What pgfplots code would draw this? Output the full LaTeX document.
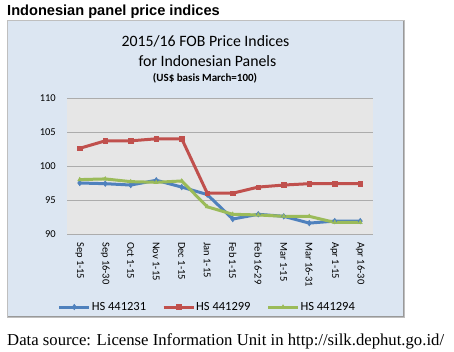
\documentclass[border=0pt]{standalone}
\usepackage{pgfplots}
\pgfplotsset{compat=1.18}
\usepackage{fontspec}
\setmainfont{Carlito}
\newfontfamily\arialf{Liberation Sans}
\newfontfamily\timesf{Liberation Serif}
\definecolor{boxfill}{HTML}{DCE6F2}
\definecolor{plotfill}{HTML}{E6E6E6}
\definecolor{sblue}{HTML}{4F81BD}
\definecolor{sred}{HTML}{C0504D}
\definecolor{sgreen}{HTML}{9BBB59}
\begin{document}
\begin{tikzpicture}
\path[use as bounding box, fill=white] (0pt,0pt) rectangle (454pt,351pt);
\fill[boxfill] (7.5pt,34pt) rectangle (404pt,330.5pt);
\draw[gray!80, line width=1.5pt] (404pt,34pt) -- (404pt,330.5pt);
\draw[gray!80, line width=1.5pt] (7.5pt,34pt) -- (404pt,34pt);
\draw[gray!50, line width=0.6pt] (7.5pt,34pt) rectangle (404pt,330.5pt);
\node[anchor=base west, inner sep=0, font=\arialf\bfseries\fontsize{14.6}{16}\selectfont] at (7pt,335.5pt) {Indonesian panel price indices};
\node[anchor=base, inner sep=0, font=\fontsize{15.8}{18}\selectfont] at (205.5pt,304.5pt) {2015/16 FOB Price Indices};
\node[anchor=base, inner sep=0, font=\fontsize{15.8}{18}\selectfont] at (207.5pt,284pt) {for Indonesian Panels};
\node[anchor=base, inner sep=0, font=\bfseries\fontsize{11}{12}\selectfont] at (205pt,269pt) {(US\$ basis March=100)};
\node[anchor=base west, inner sep=0, font=\timesf\fontsize{16.7}{18}\selectfont] at (7pt,6pt) {Data source: License Information Unit in http://silk.dephut.go.id/};
\begin{axis}[
  at={(67pt,117pt)}, anchor=south west,
  scale only axis, width=306pt, height=136pt,
  xmin=-0.5, xmax=11.5, ymin=90, ymax=110,
  ytick={90,95,100,105,110},
  xtick={0,...,11},
  xticklabels={Sep 1-15,Sep 16-30,Oct 1-15,Nov 1-15,Dec 1-15,Jan 1-15,Feb 1-15,Feb 16-29,Mar 1-15,Mar 16-31,Apr 1-15,Apr 16-30},
  x tick label style={rotate=-90, anchor=west, font=\fontsize{10.5}{12}\selectfont, inner sep=0pt},
  xticklabel shift=8pt,
  y tick label style={font=\fontsize{10.5}{12}\selectfont, inner sep=0pt},
  yticklabel shift=11pt,
  yticklabel style={/pgf/number format/assume math mode=true},
  major tick length=0pt,
  axis background/.style={fill=plotfill},
  axis line style={draw=none},
  ymajorgrids, major grid style={gray!65, line width=0.8pt},
  legend style={at={(0.457,-0.537)}, anchor=center, draw=none, fill=none, font=\fontsize{12.5}{14}\selectfont, legend columns=3,
    /tikz/every odd column/.append style={column sep=0pt},
    /tikz/every even column/.append style={column sep=15pt},
    nodes={inner sep=1pt}},
  legend image code/.code={\draw[#1, mark repeat=2, mark phase=2] plot coordinates {(0pt,0pt) (15pt,0pt) (30pt,0pt)};},
]
\addplot[sblue, line width=3pt, mark=diamond*, mark size=2.8pt, mark options={line width=0.5pt}] coordinates {
(0,97.5) (1,97.4) (2,97.2) (3,97.9) (4,96.9) (5,95.8) (6,92.2) (7,92.9) (8,92.6) (9,91.6) (10,91.9) (11,91.9)};
\addlegendentry{HS 441231}
\addplot[sred, line width=3pt, mark=square*, mark size=2.3pt, mark options={line width=0.5pt}] coordinates {
(0,102.6) (1,103.7) (2,103.7) (3,104.0) (4,104.0) (5,96.0) (6,96.0) (7,96.9) (8,97.2) (9,97.4) (10,97.4) (11,97.4)};
\addlegendentry{HS 441299}
\addplot[sgreen, line width=3pt, mark=triangle*, mark size=2.3pt, mark options={line width=0.5pt}] coordinates {
(0,98.0) (1,98.1) (2,97.7) (3,97.6) (4,97.8) (5,94.0) (6,92.9) (7,92.8) (8,92.6) (9,92.6) (10,91.7) (11,91.7)};
\addlegendentry{HS 441294}
\end{axis}
\end{tikzpicture}
\end{document}
